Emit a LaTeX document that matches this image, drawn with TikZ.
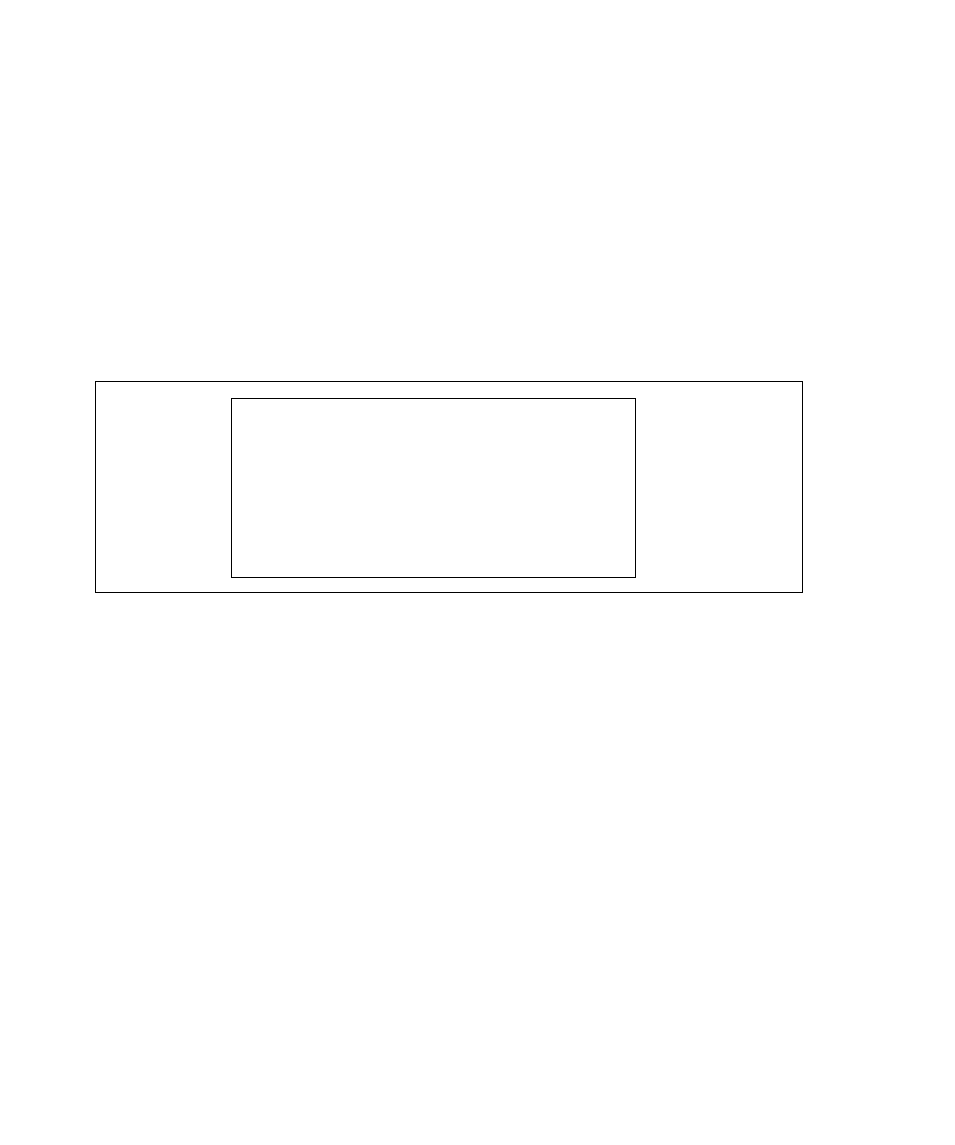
\documentclass[tikz,border=0pt]{standalone}
\begin{document}
\begin{tikzpicture}[x=1pt,y=-1pt,box/.style={draw=black,line width=0.9pt}]
\useasboundingbox (0,0) rectangle (954,1145);
\fill[white] (0,0) rectangle (954,1145);
\draw[box] (95.7,381.3) rectangle (802.3,592.3) coordinate (outer);
\draw[box] (231.3,398.3) rectangle (635.3,577.3) coordinate (inner);
\end{tikzpicture}
\end{document}
